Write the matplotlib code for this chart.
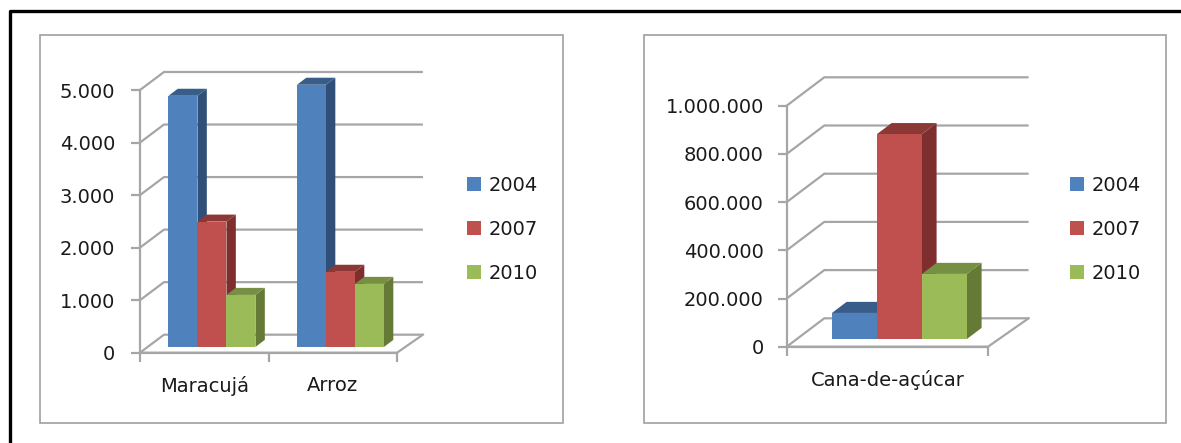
import matplotlib
matplotlib.use("Agg")
import matplotlib.pyplot as plt
from matplotlib.patches import Polygon, Rectangle, Patch
from matplotlib.lines import Line2D

W, H = 1181, 443

# data
series_names = ["2004", "2007", "2010"]
left_categories = ["Maracujá", "Arroz"]
left_2004 = [4780, 4990]
left_2007 = [2385, 1430]
left_2010 = [990, 1200]
left_ticks = [0, 1000, 2000, 3000, 4000, 5000]
left_ticklabels = ["0", "1.000", "2.000", "3.000", "4.000", "5.000"]

right_categories = ["Cana-de-açúcar"]
right_2004 = [108000]
right_2007 = [850000]
right_2010 = [270000]
right_ticks = [0, 200000, 400000, 600000, 800000, 1000000]
right_ticklabels = ["0", "200.000", "400.000", "600.000", "800.000", "1.000.000"]

# front, side, top colours
colors = [("#4f81bd", "#2f4f78", "#385d8a"),
          ("#c0504d", "#7e2f2d", "#8c3836"),
          ("#9bbb59", "#667a38", "#768f43")]
GRID = "#a6a6a6"
TEXT = "#1a1a1a"

plt.rcParams["font.family"] = "DejaVu Sans"
fig = plt.figure(figsize=(W / 100, H / 100), dpi=100)


def px_rect(x0, y0, x1, y1):
    return [x0 / W, 1 - y1 / H, (x1 - x0) / W, (y1 - y0) / H]


def bar3d(ax, x, w, base, top, dx, dy, cols):
    front, side, roof = cols
    ax.add_patch(Polygon([(x + w, base), (x + w + dx, base + dy), (x + w + dx, top + dy), (x + w, top)],
                         fc=side, ec="none", clip_on=False, zorder=3))
    ax.add_patch(Polygon([(x, top), (x + w, top), (x + w + dx, top + dy), (x + dx, top + dy)],
                         fc=roof, ec="none", clip_on=False, zorder=3))
    ax.add_patch(Rectangle((x, base), w, top - base, fc=front, ec="none", clip_on=False, zorder=4))


def chart(rect, categories, values, ticks, ticklabels, depth, bar_w, bar_lift, bar_shift, ypad):
    ax = fig.add_axes(rect)
    ax.patch.set_visible(False)
    ax.set_xlim(-0.5, len(categories) - 0.5)
    ax.set_ylim(ticks[0], ticks[-1])
    dx, dy = depth
    # walls and floor, the far end runs a bit further out
    for t in ticks:
        ax.plot([-0.5, -0.5 + dx, len(categories) - 0.5 + dx * 1.08], [t, t + dy, t + dy],
                color=GRID, lw=1.6, clip_on=False, zorder=1, solid_capstyle="butt")
    ax.plot([-0.5, len(categories) - 0.5, len(categories) - 0.5 + dx * 1.08], [0, 0, dy],
            color=GRID, lw=1.6, clip_on=False, zorder=2)
    for i in range(len(categories)):
        n = len(values)
        for j in range(n):
            x = i + bar_shift + (j - n / 2) * bar_w
            bar3d(ax, x, bar_w, bar_lift, values[j][i] + bar_lift, dx * 0.39, dy * 0.39, colors[j])
    for s in ["top", "right"]:
        ax.spines[s].set_visible(False)
    for s in ["left", "bottom"]:
        ax.spines[s].set_color(GRID)
        ax.spines[s].set_linewidth(1.6)
    ax.set_yticks(ticks, ticklabels)
    ax.set_xticks([i - 0.5 for i in range(len(categories) + 1)], [""] * (len(categories) + 1))
    ax.set_xticks(range(len(categories)), categories, minor=True)
    ax.tick_params(axis="both", which="major", color=GRID, width=1.6, length=6.5, labelsize=14, labelcolor=TEXT)
    ax.tick_params(axis="y", pad=ypad)
    ax.tick_params(axis="x", which="minor", length=0, labelsize=14, labelcolor=TEXT, pad=17)
    return ax


# outer frame and panels
fig.add_artist(Line2D([10 / W, 10 / W, 1], [0, 1 - 10.5 / H, 1 - 10.5 / H], color="black", lw=2.4, zorder=-1))
for box in [(40, 35, 563, 423), (644, 35, 1166, 423)]:
    fig.add_artist(Rectangle((box[0] / W, 1 - box[3] / H), (box[2] - box[0]) / W, (box[3] - box[1]) / H,
                             transform=fig.transFigure, fc="white", ec="#a0a0a0", lw=1.2, zorder=-1))

ax1 = chart(px_rect(140, 90, 397, 352.7), left_categories, [left_2004, left_2007, left_2010],
            left_ticks, left_ticklabels, (24 / 128.5, 18 / 52.5 * 1000), 29 / 128.5, 110, 0.06, 11.5)
ax2 = chart(px_rect(786.7, 105.7, 988, 346.7), right_categories, [right_2004, right_2007, right_2010],
            right_ticks, right_ticklabels, (37.6 / 201.3, 28.4 / 48.2 * 200000), 45 / 201.3, 32000, 0.06, 10)

handles = [Patch(fc=colors[i][0], ec="none") for i in range(3)]
for ax, x_px in [(ax1, 451), (ax2, 1054)]:
    ax.legend(handles, series_names, loc="upper left", bbox_to_anchor=(x_px / W, 1 - 160 / H),
              bbox_transform=fig.transFigure, frameon=False, fontsize=14, labelcolor=TEXT,
              handlelength=0.75, handleheight=0.75, handletextpad=0.4, labelspacing=1.3, borderpad=0.3)

fig.savefig("out.png", dpi=100)
